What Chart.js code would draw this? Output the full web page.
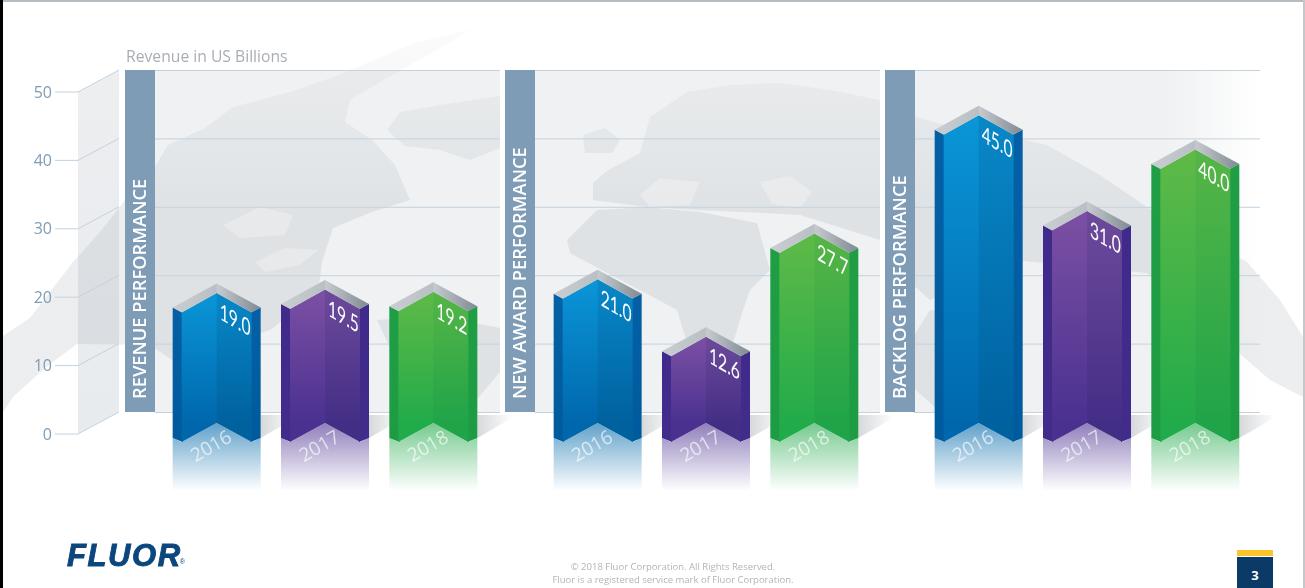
<html>
<head>
    <title>Fluor Performance</title>
    <script src="https://cdn.jsdelivr.net/npm/chart.js@4"></script>
    <style>
        body { margin: 0; background: #fff; overflow: hidden; width: 1305px; height: 588px; position: relative; }
        canvas { position: absolute; left: 0; top: 0; }
        .edge { position: absolute; }
        #logo { position: absolute; left: 67px; top: 538px; font: italic bold 31px "Liberation Sans"; letter-spacing: 1.6px; color: #0b477c; -webkit-text-stroke: 0.9px #0b477c; }
        #logo sup { font: 7px "Liberation Sans"; letter-spacing: 0; position: relative; top: 9px; left: -2px; -webkit-text-stroke: 0; }
        #footer { position: absolute; left: 473px; width: 400px; top: 561px; text-align: center; font: 9.5px/12.5px "Open Sans"; color: #b4b4b4; }
        #page { position: absolute; left: 1237px; top: 557px; width: 36px; height: 31px; background: #0b3a66; color: #fff; text-align: center; font: bold 13px/36px "Open Sans"; }
        #pagebar { position: absolute; left: 1237px; top: 550px; width: 36px; height: 6px; background: #fdc52b; }
    </style>
</head>
<body>
    <canvas id="chart" width="1305" height="588"></canvas>
    <div class="edge" style="left:0;top:0;width:3px;height:588px;background:#000"></div>
    <div class="edge" style="left:3px;top:0;width:1302px;height:2px;background:#b5bdc3"></div>
    <div class="edge" style="left:1303px;top:0;width:2px;height:588px;background:#c4c8cb"></div>
    <div id="logo">FLUOR<sup>®</sup></div>
    <div id="footer">© 2018 Fluor Corporation. All Rights Reserved.<br>Fluor is a registered service mark of Fluor Corporation.</div>
    <div id="pagebar"></div>
    <div id="page">3</div>
</body>
<script>
    const panels = ['REVENUE PERFORMANCE', 'NEW AWARD PERFORMANCE', 'BACKLOG PERFORMANCE'];
    const years = ['2016', '2017', '2018'];
    const series2016 = [19.0, 21.0, 45.0];
    const series2017 = [19.5, 12.6, 31.0];
    const series2018 = [19.2, 27.7, 40.0];
    const yTicks = [0, 10, 20, 30, 40, 50];

    const blue = { left: ['#0a96d8', '#0067ac'], right: ['#0888c8', '#00619f'], side: ['#0560a6', '#005b9e'], fade: '0,104,170' };
    const purple = { left: ['#7c50a4', '#4a3190'], right: ['#6d4a9b', '#432e86'], side: ['#3f2a8d', '#412c8b'], fade: '76,50,146' };
    const green = { left: ['#5fba47', '#22ab4a'], right: ['#56b546', '#20a449'], side: ['#1f9e45', '#1e9c44'], fade: '34,170,74' };
    const palettes = [blue, purple, green];

    // rough outlines of the faded world map behind the chart
    const mapShapes = [
        [[0,338],[30,318],[73,262],[100,232],[125,200],[150,175],[168,145],[205,128],[233,107],[290,92],[333,77],[417,42],[470,30],[440,48],[380,82],[350,100],[345,122],[372,140],[395,165],[410,200],[372,212],[333,228],[322,262],[318,293],[270,330],[175,362],[150,345],[77,344],[45,368],[13,397],[0,417]],
        [[387,130],[400,112],[440,105],[500,96],[500,148],[470,160],[440,150],[405,146]],
        [[377,320],[440,316],[500,328],[500,372],[478,398],[445,395],[425,372],[392,352]],
        [[583,135],[605,128],[620,140],[612,153],[585,153]],
        [[593,183],[608,170],[640,153],[650,117],[687,92],[730,85],[780,83],[830,90],[880,100],[880,240],[800,215],[763,213],[697,210],[647,207],[593,200]],
        [[567,240],[597,210],[647,207],[700,212],[757,223],[770,270],[750,290],[743,310],[733,343],[687,343],[677,310],[653,297],[607,273],[570,253]],
        [[910,115],[945,125],[1000,135],[1047,145],[1100,175],[1147,207],[1200,235],[1247,262],[1280,300],[1305,340],[1305,398],[1270,380],[1247,360],[1147,273],[1013,260],[930,300],[885,260],[885,140]],
        [[905,350],[930,310],[1013,320],[1020,410],[940,412],[905,380]]
    ];
    const mapLakes = [
        [[223,225],[260,207],[293,215],[285,235],[240,238]],
        [[255,262],[285,248],[318,250],[300,265],[265,272]],
        [[640,195],[660,178],[700,182],[690,205],[650,207]],
        [[760,182],[790,176],[812,192],[800,208],[772,204]]
    ];

    function path(ctx, pts) {
        ctx.beginPath();
        pts.forEach((p, i) => i ? ctx.lineTo(p[0], p[1]) : ctx.moveTo(p[0], p[1]));
        ctx.closePath();
    }

    function vgrad(ctx, y0, y1, c0, c1) {
        const g = ctx.createLinearGradient(0, y0, 0, y1);
        g.addColorStop(0, c0);
        g.addColorStop(1, c1);
        return g;
    }

    const backdrop = {
        id: 'backdrop',
        beforeDatasetsDraw(chart) {
            const ctx = chart.ctx;
            const y = chart.scales.y;
            const backTop = y.getPixelForValue(50) - 11;
            const backBottom = y.getPixelForValue(0) - 11;
            ctx.save();

            // side wall
            const wallTop = y.getPixelForValue(50) + 11;
            const wallBottom = y.getPixelForValue(0) + 11;
            path(ctx, [[78, wallTop], [119, backTop], [119, backBottom], [78, wallBottom]]);
            ctx.fillStyle = vgrad(ctx, backTop, wallBottom, '#eceef0', '#e8ebee');
            ctx.fill();

            // back walls
            [[155, 500], [535, 880], [914, 1260]].forEach((r, i) => {
                const g = ctx.createLinearGradient(r[0], 0, r[1], 0);
                g.addColorStop(0, '#eff1f2');
                g.addColorStop(0.72, '#eff1f2');
                g.addColorStop(1, i === 2 ? '#ffffff' : '#eff1f2');
                ctx.fillStyle = g;
                ctx.fillRect(r[0], backTop, r[1] - r[0], backBottom - backTop);
            });

            // map
            ctx.fillStyle = vgrad(ctx, 30, 220, 'rgba(150,158,166,0.04)', 'rgba(150,158,166,0.18)');
            mapShapes.forEach(s => { path(ctx, s); ctx.fill(); });
            ctx.fillStyle = 'rgba(244,245,246,0.4)';
            mapLakes.forEach(s => { path(ctx, s); ctx.fill(); });

            // grid, ticks and labels
            ctx.strokeStyle = '#c4d2de';
            ctx.lineWidth = 1;
            ctx.font = '16px "Open Sans"';
            ctx.textAlign = 'right';
            ctx.textBaseline = 'middle';
            yTicks.forEach(t => {
                const py = y.getPixelForValue(t);
                ctx.beginPath();
                ctx.moveTo(55, py + 11);
                ctx.lineTo(78, py + 11);
                ctx.lineTo(119, py - 11);
                ctx.stroke();
                [[155, 500], [535, 880], [914, 1260]].forEach(r => {
                    ctx.beginPath();
                    ctx.moveTo(r[0], py - 10.5);
                    ctx.lineTo(r[1], py - 10.5);
                    ctx.stroke();
                });
                ctx.fillStyle = '#7f9cb6';
                ctx.fillText(String(t), 52, py + 12);
            });

            // panel labels
            panels.forEach((name, i) => {
                const left = [125, 505, 885][i];
                ctx.fillStyle = '#7f9cb6';
                ctx.fillRect(left, backTop, 30, backBottom - backTop);
                ctx.save();
                ctx.translate(left + 15, backBottom - 13);
                ctx.rotate(-Math.PI / 2);
                ctx.fillStyle = '#fff';
                ctx.font = '600 18.3px "Open Sans"';
                ctx.textAlign = 'left';
                ctx.textBaseline = 'middle';
                ctx.fillText(name, 0, 0.5);
                ctx.restore();
            });

            ctx.fillStyle = '#a8aeb3';
            ctx.font = '15.7px "Open Sans"';
            ctx.textAlign = 'left';
            ctx.fillText('Revenue in US Billions', 126, 58);
            ctx.restore();
        }
    };

    function drawPrism(ctx, el, pal, value, year) {
        const cx = el.x, top = el.y, base = el.base, half = el.width / 2, inner = half - 9;

        // floor shadow
        const sh = ctx.createLinearGradient(cx + half, 0, cx + half + 36, 0);
        sh.addColorStop(0, 'rgba(120,128,136,0.3)');
        sh.addColorStop(1, 'rgba(120,128,136,0)');
        ctx.fillStyle = sh;
        path(ctx, [[cx + half, base + 15], [cx + half, base - 8], [cx + half + 40, base - 8]]);
        ctx.fill();

        // reflection
        const fade = base + 68;
        ctx.fillStyle = vgrad(ctx, base, fade, 'rgba(' + pal.fade + ',0.62)', 'rgba(' + pal.fade + ',0)');
        path(ctx, [[cx - half, base + 15], [cx - inner, base + 19], [cx, base], [cx + inner, base + 19], [cx + half, base + 15], [cx + half, fade], [cx - half, fade]]);
        ctx.fill();

        // side strips
        ctx.fillStyle = vgrad(ctx, top, base, pal.side[0], pal.side[1]);
        path(ctx, [[cx - half, top + 14.5], [cx - inner + 1, top + 19.5], [cx - inner + 1, base + 19], [cx - half, base + 15]]);
        ctx.fill();
        path(ctx, [[cx + half, top + 14.5], [cx + inner - 1, top + 19.5], [cx + inner - 1, base + 19], [cx + half, base + 15]]);
        ctx.fill();

        // faces
        ctx.fillStyle = vgrad(ctx, top, base, pal.left[0], pal.left[1]);
        path(ctx, [[cx - inner, top + 19.5], [cx, top], [cx + 1, top], [cx + 1, base], [cx, base], [cx - inner, base + 19]]);
        ctx.fill();
        ctx.fillStyle = vgrad(ctx, top, base, pal.right[0], pal.right[1]);
        path(ctx, [[cx + inner, top + 19.5], [cx, top], [cx, base], [cx + inner, base + 19]]);
        ctx.fill();

        // top cap
        let g = ctx.createLinearGradient(cx - half, 0, cx, 0);
        g.addColorStop(0, '#c9ced2');
        g.addColorStop(1, '#b9bfc4');
        ctx.fillStyle = g;
        path(ctx, [[cx - half, top + 14.5], [cx, top - 9.5], [cx + 1, top - 9], [cx + 1, top], [cx, top], [cx - inner, top + 19.5]]);
        ctx.fill();
        g = ctx.createLinearGradient(cx, 0, cx + half, 0);
        g.addColorStop(0, '#c6cbcf');
        g.addColorStop(1, '#7f8a93');
        ctx.fillStyle = g;
        path(ctx, [[cx + half, top + 14.5], [cx, top - 9.5], [cx, top], [cx + inner, top + 19.5]]);
        ctx.fill();

        // value follows the right face
        ctx.save();
        ctx.transform(0.68, 0.39, 0, 1, cx + 3, top + 26);
        ctx.fillStyle = '#ffffff';
        ctx.font = '400 23px "Lato"';
        ctx.textAlign = 'left';
        ctx.textBaseline = 'alphabetic';
        ctx.fillText(value.toFixed(1), 0, 0);
        ctx.restore();

        // year on the reflection
        ctx.save();
        ctx.translate(cx - 5, base + 24);
        ctx.rotate(-Math.PI / 6);
        ctx.fillStyle = 'rgba(255,255,255,0.65)';
        ctx.font = '19px "Open Sans"';
        ctx.textAlign = 'center';
        ctx.textBaseline = 'middle';
        ctx.fillText(year, 0, 0);
        ctx.restore();
    }

    const prisms = {
        id: 'prisms',
        afterDatasetsDraw(chart) {
            const ctx = chart.ctx;
            ctx.save();
            chart.data.datasets.forEach((ds, d) => {
                chart.getDatasetMeta(d).data.forEach((el, i) => {
                    drawPrism(ctx, el, palettes[d], ds.data[i], ds.label);
                });
            });
            ctx.restore();
        }
    };

    new Chart(document.getElementById('chart').getContext('2d'), {
        type: 'bar',
        data: {
            labels: panels,
            datasets: [
                { label: years[0], data: series2016, backgroundColor: 'rgba(0,0,0,0)' },
                { label: years[1], data: series2017, backgroundColor: 'rgba(0,0,0,0)' },
                { label: years[2], data: series2018, backgroundColor: 'rgba(0,0,0,0)' }
            ]
        },
        options: {
            responsive: false,
            animation: false,
            devicePixelRatio: 1,
            layout: { padding: { left: 134.5, right: 27.5, top: 81, bottom: 165 } },
            categoryPercentage: 0.853,
            barPercentage: 0.8125,
            scales: {
                x: { display: false },
                y: { display: false, min: 0, max: 50 }
            },
            plugins: { legend: { display: false }, tooltip: { enabled: false } }
        },
        plugins: [backdrop, prisms]
    });
</script>
</html>
